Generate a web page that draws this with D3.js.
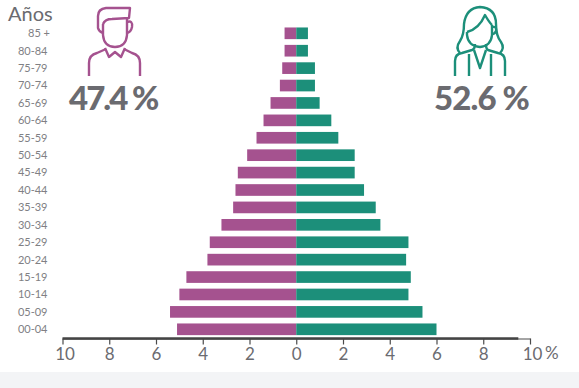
<!DOCTYPE html>
<html>
<head>
<meta charset="utf-8">
<script src="https://cdn.jsdelivr.net/npm/d3@7"></script>
<style>
  html, body { margin: 0; padding: 0; background: #fff; overflow: hidden; }
  text { font-family: Lato, "Open Sans", sans-serif; }
</style>
</head>
<body>
<div id="chart"></div>
<script>
// Age groups, top of the pyramid first
const ageGroups = ["85 +", "80-84", "75-79", "70-74", "65-69", "60-64", "55-59", "50-54", "45-49",
    "40-44", "35-39", "30-34", "25-29", "20-24", "15-19", "10-14", "05-09", "00-04"]
const menValues = [0.5, 0.5, 0.6, 0.7, 1.1, 1.4, 1.7, 2.1, 2.5, 2.6, 2.7, 3.2, 3.7, 3.8, 4.7, 5.0, 5.4, 5.1]
const womenValues = [0.5, 0.5, 0.8, 0.8, 1.0, 1.5, 1.8, 2.5, 2.5, 2.9, 3.4, 3.6, 4.8, 4.7, 4.9, 4.8, 5.4, 6.0]
const axisTicks = [-10, -8, -6, -4, -2, 0, 2, 4, 6, 8, 10]
const menShare = "47.4 %"
const womenShare = "52.6 %"

const width = 579
const height = 388
const purple = "#a5528f"
const green = "#1c8f7a"
const grey = "#6b6b70"

const svg = d3.select("#chart").append("svg")
    .attr("width", width)
    .attr("height", height)
    .style("display", "block")

// Grey strip at the bottom of the page
svg.append("rect")
    .attr("x", 0)
    .attr("y", 372)
    .attr("width", width)
    .attr("height", height - 372)
    .attr("fill", "#f3f4f6")

const x = d3.scaleLinear().domain([-10, 10]).range([62.5, 530])
const y = d3.scaleBand().domain(ageGroups).range([24.6, 338]).paddingInner(0.33).paddingOuter(0.165)

// Bars
svg.append("g").selectAll("rect")
    .data(menValues)
    .join("rect")
    .attr("x", d => x(-d))
    .attr("y", (d, i) => y(ageGroups[i]))
    .attr("width", d => x(0) - x(-d))
    .attr("height", y.bandwidth())
    .attr("fill", purple)

svg.append("g").selectAll("rect")
    .data(womenValues)
    .join("rect")
    .attr("x", x(0))
    .attr("y", (d, i) => y(ageGroups[i]))
    .attr("width", d => x(d) - x(0))
    .attr("height", y.bandwidth())
    .attr("fill", green)

// Age labels
svg.append("g").selectAll("text")
    .data(ageGroups)
    .join("text")
    .attr("x", d => d === "85 +" ? 50 : 47.5)
    .attr("y", d => y(d) + y.bandwidth() / 2)
    .attr("dy", "0.35em")
    .attr("text-anchor", "end")
    .attr("font-size", 11)
    .attr("fill", "#808084")
    .text(d => d)

svg.append("text")
    .attr("x", 8)
    .attr("y", 21)
    .attr("font-size", 20)
    .attr("fill", grey)
    .text("Años")

// Axis
const axis = svg.append("g")
    .attr("transform", "translate(0,338.5)")
    .call(d3.axisBottom(x)
        .tickValues(axisTicks)
        .tickSize(6)
        .tickPadding(3)
        .tickSizeOuter(0)
        .tickFormat(d => Math.abs(d)))

axis.select(".domain").attr("stroke", "#4a4a4a").attr("stroke-width", 1)
axis.selectAll(".tick line").attr("stroke", "#4a4a4a").attr("stroke-width", 1.2)
axis.selectAll(".tick text")
    .attr("font-size", 17)
    .attr("fill", grey)
    .attr("font-family", "Lato, sans-serif")
    .attr("dx", d => Math.abs(d) === 10 ? 2 : 0)

// Thick part of the baseline stops short of the right end
svg.append("line")
    .attr("x1", x(-10))
    .attr("x2", x(9.5))
    .attr("y1", 338.5)
    .attr("y2", 338.5)
    .attr("stroke", "#444")
    .attr("stroke-width", 2.4)

svg.append("text")
    .attr("x", 545)
    .attr("y", 359)
    .attr("font-size", 17)
    .attr("fill", grey)
    .text("%")

// Share labels
svg.append("text")
    .attr("x", 69)
    .attr("y", 110)
    .attr("font-size", 33)
    .attr("font-weight", 900)
    .attr("letter-spacing", -2)
    .attr("fill", grey)
    .text(menShare)

svg.append("text")
    .attr("x", 434)
    .attr("y", 110)
    .attr("font-size", 33)
    .attr("font-weight", 900)
    .attr("letter-spacing", -0.9)
    .attr("fill", grey)
    .text(womenShare)

// Icons
const manIcon = [
    "M89,76 V63 Q89,55 97,53 L106,49",
    "M140,76 V63 Q140,55 132,53 L124,49",
    "M105,48 L109,57 L115,52 L121,57 L125,48",
    "M103,24 V35 Q104,47 115,47 Q126,47 127,35 V18",
    "M103,24 Q105,19 112,19 L129,18 L130,8 H106 Q98,9 98,16 V28 Q99,32 103,33",
    "M127,22 Q133,20 132,27 Q131,32 127,33"
]

const womanIcon = [
    "M455,76 V61 Q455,54 462,53 L472,50 Q475,49 475,44",
    "M505,76 V61 Q505,54 498,53 L488,50 Q486,49 486,44",
    "M474,50 L480,68 L486,50",
    "M469,54 V76",
    "M491,54 V76",
    "M467,32 V35 Q468,46 480,47 Q491,46 492,35 V25",
    "M467,32 Q479,29 485,15 Q489,22 492,25",
    "M492,27 Q497,26 496,31 Q495,34 492,34",
    "M460,53 Q455,48 460,41 Q464,35 464,24 Q466,8 480,7 Q496,8 496,24 Q496,36 501,42 Q505,48 500,53"
]

svg.append("g").selectAll("path")
    .data(manIcon)
    .join("path")
    .attr("d", d => d)
    .attr("fill", "none")
    .attr("stroke", purple)
    .attr("stroke-width", 2.4)
    .attr("stroke-linejoin", "round")

svg.append("g").selectAll("path")
    .data(womanIcon)
    .join("path")
    .attr("d", d => d)
    .attr("fill", "none")
    .attr("stroke", green)
    .attr("stroke-width", 2.4)
    .attr("stroke-linejoin", "round")
</script>
</body>
</html>
